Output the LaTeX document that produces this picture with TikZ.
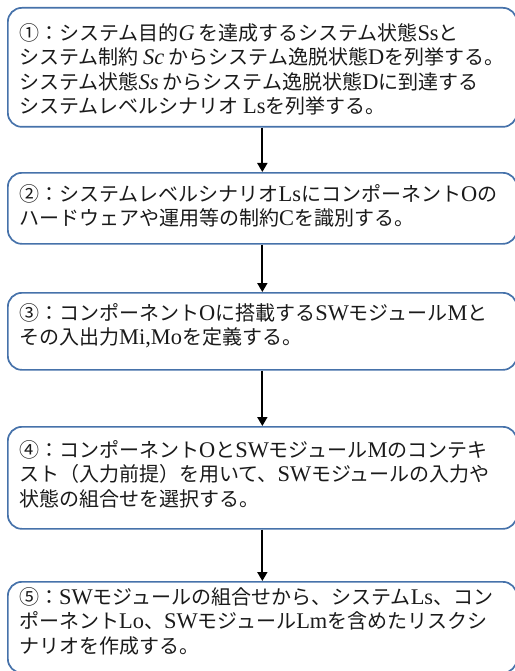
\documentclass[tikz,border=0pt]{standalone}
\usepackage{fontspec}
\setmainfont{Liberation Serif}[Scale=1.12]
\newfontfamily\jp{Noto Sans CJK JP}
\usetikzlibrary{arrows.meta}
\newcommand\lt[1]{{\rmfamily #1}}
\newcommand\li[1]{{\rmfamily\itshape #1}}
\definecolor{boxblue}{HTML}{4672AA}
\definecolor{txtcol}{HTML}{1A1A1A}
\begin{document}
\begin{tikzpicture}[x=1pt,y=-1pt,
  boxshape/.style={draw=boxblue, line width=1.7pt, rounded corners=14pt, inner sep=0pt, anchor=north west, minimum width=509pt},
  txt/.style={anchor=north west, inner sep=0pt, align=left, text=txtcol, font=\jp\fontsize{20}{24.6}\selectfont},
  arr/.style={line width=1.8pt, -{Triangle[length=9pt,width=10pt]}}]
\useasboundingbox (0,0) rectangle (514,671);
\node[boxshape, minimum height=119pt] (b1) at (7,7) {};
\node[boxshape, minimum height=71pt] (b2) at (7,172) {};
\node[boxshape, minimum height=77pt] (b3) at (7,292) {};
\node[boxshape, minimum height=102pt] (b4) at (7,426) {};
\node[boxshape, minimum height=91pt] (b5) at (7,581) {};
\node[txt] (t1) at (19,23) {①：システム目的\li{G}\,を達成するシステム状態\lt{Ss}と\\
システム制約 \li{Sc} からシステム逸脱状態\lt{D}を列挙する。\\
システム状態\li{Ss} からシステム逸脱状態\lt{D}に到達する\\
システムレベルシナリオ \lt{Ls}を列挙する。};
\node[txt] (t2) at (19,184) {②：システムレベルシナリオ\lt{Ls}にコンポーネント\lt{O}の\\
ハードウェアや運用等の制約\lt{C}を識別する。};
\node[txt] (t3) at (19,303) {③：コンポーネント\lt{O}に搭載する\lt{SW}モジュール\lt{M}と\\
その入出力\lt{Mi,Mo}を定義する。};
\node[txt] (t4) at (19,440) {④：コンポーネント\lt{O}と\lt{SW}モジュール\lt{M}のコンテキ\\
スト（入力前提）を用いて、\lt{SW}モジュールの入力や\\
状態の組合せを選択する。};
\node[txt] (t5) at (19,587) {⑤：\lt{SW}モジュールの組合せから、システム\lt{Ls}、コン\\
ポーネント\lt{Lo}、\lt{SW}モジュール\lt{Lm}を含めたリスクシ\\
ナリオを作成する。};
\draw[arr] (b1.south) -- (b2.north);
\draw[arr] (b2.south) -- (b3.north);
\draw[arr] (b3.south) -- (b4.north);
\draw[arr] (b4.south) -- (b5.north);
\end{tikzpicture}
\end{document}
